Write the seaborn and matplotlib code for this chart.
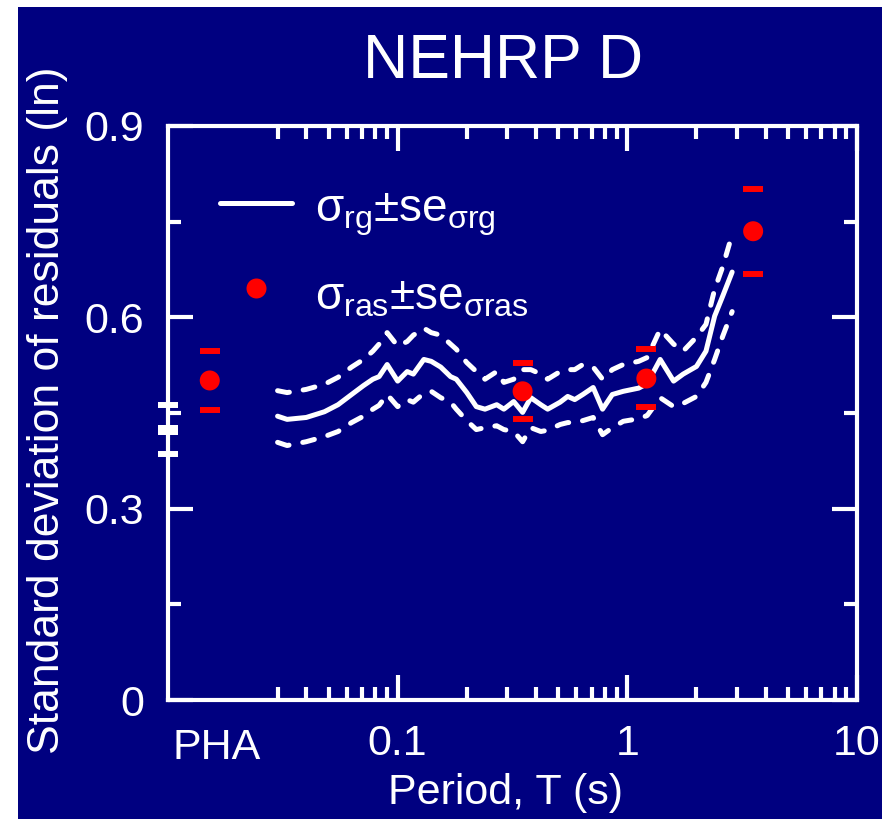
import numpy as np
import pandas as pd
import matplotlib
matplotlib.use("Agg")
import matplotlib.pyplot as plt
import matplotlib.ticker as mticker
import matplotlib.transforms as mtransforms
from matplotlib.patches import Rectangle
import seaborn as sns

# ---------------- data ----------------
period = [0.03, 0.033, 0.04, 0.048, 0.055, 0.063, 0.071, 0.078, 0.083, 0.09,
          0.10, 0.11, 0.117, 0.13, 0.14, 0.154, 0.17, 0.18, 0.20, 0.22,
          0.24, 0.27, 0.29, 0.32, 0.35, 0.38, 0.42, 0.45, 0.51, 0.55,
          0.59, 0.64, 0.71, 0.78, 0.86, 0.96, 1.12, 1.22, 1.39, 1.59,
          1.75, 2.0, 2.2, 2.4, 2.6, 2.86]
sigma_rg = [0.445, 0.440, 0.443, 0.452, 0.463, 0.479, 0.493, 0.503, 0.507, 0.526,
            0.500, 0.515, 0.511, 0.534, 0.531, 0.522, 0.507, 0.503, 0.482, 0.460,
            0.456, 0.463, 0.456, 0.468, 0.451, 0.474, 0.463, 0.456, 0.467, 0.476,
            0.471, 0.479, 0.490, 0.456, 0.479, 0.484, 0.489, 0.496, 0.534, 0.500,
            0.511, 0.523, 0.547, 0.602, 0.633, 0.671]
sigma_rg_hi = [0.485, 0.482, 0.487, 0.495, 0.506, 0.522, 0.534, 0.547, 0.558, 0.576,
               0.555, 0.562, 0.572, 0.583, 0.576, 0.572, 0.558, 0.550, 0.529, 0.515,
               0.503, 0.515, 0.498, 0.503, 0.518, 0.518, 0.511, 0.503, 0.515, 0.518,
               0.518, 0.526, 0.522, 0.503, 0.518, 0.526, 0.531, 0.537, 0.581, 0.558,
               0.547, 0.569, 0.589, 0.644, 0.679, 0.730]
sigma_rg_lo = [0.404, 0.399, 0.405, 0.413, 0.421, 0.435, 0.445, 0.456, 0.462, 0.479,
               0.460, 0.471, 0.467, 0.481, 0.484, 0.474, 0.467, 0.456, 0.438, 0.424,
               0.427, 0.430, 0.424, 0.421, 0.405, 0.427, 0.421, 0.423, 0.432, 0.435,
               0.435, 0.438, 0.443, 0.416, 0.427, 0.437, 0.441, 0.446, 0.474, 0.460,
               0.465, 0.476, 0.498, 0.534, 0.570, 0.609]

# PHA values of sigma_rg (shown on the left axis)
pha_rg = [0.424]
pha_rg_lo = [0.385]
pha_rg_hi = [0.462]

# sigma_ras points (first one is PHA)
ras_period = [0.0152, 0.35, 1.21, 3.53]
ras_sigma = [0.501, 0.484, 0.504, 0.735]
ras_hi = [0.547, 0.529, 0.550, 0.801]
ras_lo = [0.455, 0.441, 0.459, 0.668]

xtick_vals = [0.1, 1, 10]
xtick_labels = ["0.1", "1", "10"]
xminor_vals = [0.03, 0.04, 0.05, 0.06, 0.07, 0.08, 0.09,
               0.2, 0.3, 0.4, 0.5, 0.6, 0.7, 0.8, 0.9,
               2, 3, 4, 5, 6, 7, 8, 9]
ytick_vals = [0, 0.3, 0.6, 0.9]
ytick_labels = ["0", "0.3", "0.6", "0.9"]
yminor_vals = [0.15, 0.45, 0.75]

# ---------------- style ----------------
sns.set_theme(style="ticks")
NAVY = "#000080"
plt.rcParams["font.family"] = ["Liberation Sans", "DejaVu Sans"]
plt.rcParams["mathtext.fontset"] = "custom"
plt.rcParams["mathtext.rm"] = "Liberation Sans"
plt.rcParams["mathtext.it"] = "Liberation Sans"
plt.rcParams["mathtext.bf"] = "Liberation Sans:bold"
plt.rcParams["mathtext.sf"] = "Liberation Sans"

W, H = 882, 819
fig = plt.figure(figsize=(W / 100, H / 100), dpi=100, facecolor="white")
fig.patches.append(Rectangle((18 / W, 0), 1 - 18 / W, 1 - 7 / H,
                             transform=fig.transFigure, facecolor=NAVY,
                             edgecolor="none", zorder=-10))

ax = fig.add_axes([168 / W, 1 - 700 / H, (857 - 168) / W, (700 - 126) / H])
ax.set_facecolor(NAVY)

df = pd.DataFrame({"T": period, "s": sigma_rg, "hi": sigma_rg_hi, "lo": sigma_rg_lo})
lw = 3.6
sns.lineplot(data=df, x="T", y="s", ax=ax, color="white", lw=lw,
             solid_capstyle="round", solid_joinstyle="round")
for col in ["hi", "lo"]:
    sns.lineplot(data=df, x="T", y=col, ax=ax, color="white", lw=lw,
                 linestyle=(0, (2.4, 2.8)), dash_capstyle="round",
                 dash_joinstyle="round")

# red sigma_ras points
sns.scatterplot(x=ras_period, y=ras_sigma, ax=ax, color="red", s=14.4 ** 2,
                edgecolor="none", zorder=5)
ax.plot(ras_period, ras_hi, ls="none", marker="_", ms=14.4, mew=4.3, color="red")
ax.plot(ras_period, ras_lo, ls="none", marker="_", ms=14.4, mew=4.3, color="red")

# PHA sigma_rg on left spine
ax.plot([0.01], pha_rg, ls="none", marker="_", ms=13.7, mew=7.2, color="white",
        clip_on=False, zorder=6)
ax.plot([0.01, 0.01], pha_rg_lo + pha_rg_hi, ls="none", marker="_", ms=13.7,
        mew=4.3, color="white", clip_on=False, zorder=6)

# axes
ax.set_xscale("log")
ax.set_xlim(0.01, 10)
ax.set_ylim(0, 0.9)
ax.xaxis.set_major_locator(mticker.FixedLocator(xtick_vals))
ax.xaxis.set_major_formatter(mticker.FixedFormatter(xtick_labels))
ax.xaxis.set_minor_locator(mticker.FixedLocator(xminor_vals))
ax.xaxis.set_minor_formatter(mticker.NullFormatter())
ax.yaxis.set_major_locator(mticker.FixedLocator(ytick_vals))
ax.yaxis.set_major_formatter(mticker.FixedFormatter(ytick_labels))
ax.yaxis.set_minor_locator(mticker.FixedLocator(yminor_vals))

for sp in ax.spines.values():
    sp.set_visible(True)
    sp.set_color("white")
    sp.set_linewidth(3)
ax.tick_params(which="both", direction="in", colors="white", width=3,
               top=True, right=True, labelsize=31)
ax.tick_params(which="major", length=18, pad=17)
ax.tick_params(which="minor", length=9.5)
ax.set_xlabel("")
ax.set_ylabel("")

trans = mtransforms.blended_transform_factory(ax.transData, ax.transAxes)
ax.text(0.0163, -0.049, "PHA", transform=trans, ha="center", va="top",
        color="white", fontsize=31)

# legend (drawn manually)
ax.plot([0.0755, 0.18], [0.866, 0.866], transform=ax.transAxes, color="white",
        lw=lw, solid_capstyle="round")
ax.plot([0.1277], [0.7178], transform=ax.transAxes, ls="none", marker="o",
        ms=14.4, color="red", mec="none")
ax.text(0.2134, 0.833, r"$σ_{\mathrm{rg}}$±se$_{σ\mathrm{rg}}$", transform=ax.transAxes,
        color="white", fontsize=33, ha="left", va="baseline")
ax.text(0.2134, 0.681, r"$σ_{\mathrm{ras}}$±se$_{σ\mathrm{ras}}$", transform=ax.transAxes,
        color="white", fontsize=33, ha="left", va="baseline")

# titles / labels
fig.text(503 / W, 1 - 62 / H, "NEHRP D", color="white", fontsize=45,
         ha="center", va="center")
fig.text(48 / W, 1 - 410 / H, "Standard deviation of residuals (ln)", color="white",
         fontsize=32, rotation=90, ha="center", va="center")
fig.text(505 / W, 1 - 793 / H, "Period, T (s)", color="white", fontsize=31,
         ha="center", va="center")

fig.savefig("out.png", dpi=100, facecolor=fig.get_facecolor())
